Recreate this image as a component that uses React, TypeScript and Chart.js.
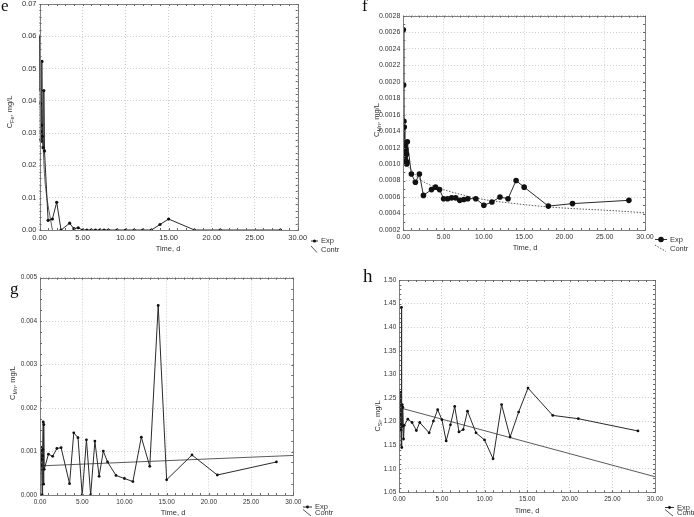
import React, { useEffect, useRef } from "react";
import { Chart, registerables } from "chart.js";
Chart.register(...registerables);

const W = 694;
const H = 517;
const SANS = '"Liberation Sans", Arial, sans-serif';
const SERIF = '"Liberation Serif", "Times New Roman", serif';

// ---------- Panel e : Fe ----------
const eTime = [0, 0.04, 0.08, 0.12, 0.17, 0.21, 0.25, 0.29, 0.33, 0.42, 0.5, 0.58, 1, 1.5, 2, 2.5, 3.5, 4, 4.5, 5, 5.5, 6, 6.5, 7, 7.5, 8, 9, 10, 11, 12, 13, 14, 15, 18, 21, 28];
const eExp = [0.06, 0.0435, 0.028, 0.0392, 0.0305, 0.0275, 0.0325, 0.0522, 0.029, 0.0255, 0.0432, 0.0245, 0.003, 0.0034, 0.0086, 0, 0.0021, 0.0004, 0.0007, 0, 0, 0, 0, 0, 0, 0, 0, 0, 0, 0, 0, 0.0017, 0.0034, 0, 0, 0];
const eContrTime = [0, 0.1, 0.2, 0.3, 0.4, 0.5, 0.6, 0.8, 1.0, 1.2, 1.4, 1.6];
const eContr = [0.06, 0.05, 0.0415, 0.034, 0.0275, 0.0215, 0.0165, 0.0112, 0.0075, 0.0045, 0.0015, -0.0015];

// ---------- Panel f : Mn ----------
const fTime = [0, 0.04, 0.08, 0.12, 0.17, 0.21, 0.25, 0.29, 0.33, 0.38, 0.42, 0.46, 0.5, 1, 1.5, 2, 2.5, 3.5, 4, 4.5, 5, 5.5, 6, 6.5, 7, 7.5, 8, 9, 10, 11, 12, 13, 14, 15, 18, 21, 28];
const fExp = [0.00263, 0.00196, 0.00152, 0.00145, 0.00116, 0.00122, 0.0011, 0.00118, 0.00104, 0.00112, 0.001, 0.00102, 0.00127, 0.00088, 0.00078, 0.00088, 0.00062, 0.00069, 0.00072, 0.00069, 0.00058, 0.00058, 0.00059, 0.00059, 0.00056, 0.00057, 0.00058, 0.00058, 0.0005, 0.00054, 0.0006, 0.00058, 0.0008, 0.00072, 0.00049, 0.00052, 0.00056];
const fContrTime = [0.3, 0.5, 1, 2, 3, 5, 8, 10, 13, 18, 21, 25, 30];
const fContr = [0.0011, 0.001, 0.00093, 0.00082, 0.00076, 0.00069, 0.00061, 0.00057, 0.00053, 0.00048, 0.00046, 0.00044, 0.00041];

// ---------- Panel g : Mn ----------
const gTime = [0, 0.04, 0.08, 0.12, 0.17, 0.21, 0.25, 0.29, 0.33, 0.38, 0.42, 0.46, 0.5, 1, 1.5, 2, 2.5, 3.5, 4, 4.5, 5, 5.5, 6, 6.5, 7, 7.5, 8, 9, 10, 11, 12, 13, 14, 15, 18, 21, 28];
const gExp = [0.00217, 0.00058, 0.0011, 0.00068, 0.00102, 0.00082, 0, 0.0009, 0.00105, 0.00168, 0.00025, 0.00162, 0.00059, 0.00094, 0.00089, 0.00107, 0.00109, 0.00026, 0.00143, 0.00132, 0, 0.00127, 0, 0.00124, 0.00043, 0.00101, 0.00076, 0.00045, 0.00038, 0.00031, 0.00133, 0.00066, 0.00436, 0.00035, 0.00092, 0.00046, 0.00076];
const gContrTime = [0, 30];
const gContr = [0.00067, 0.00091];

// ---------- Panel h : Si ----------
const hTime = [0, 0.04, 0.08, 0.12, 0.17, 0.21, 0.25, 0.29, 0.33, 0.38, 0.42, 0.5, 0.58, 1, 1.5, 2, 2.4, 3.5, 4, 4.5, 5, 5.5, 6, 6.5, 7, 7.5, 8, 9, 10, 11, 12, 13, 14, 15.1, 18, 21, 28];
const hExp = [1.15, 1.215, 1.188, 1.262, 1.195, 1.182, 1.442, 1.145, 1.236, 1.19, 1.23, 1.163, 1.192, 1.205, 1.198, 1.181, 1.198, 1.176, 1.201, 1.225, 1.204, 1.159, 1.193, 1.232, 1.178, 1.183, 1.222, 1.176, 1.161, 1.121, 1.236, 1.167, 1.22, 1.271, 1.213, 1.206, 1.18];
const hContrTime = [0.3, 30];
const hContr = [1.228, 1.083];

const xTickLabels = ["0.00", "5.00", "10.00", "15.00", "20.00", "25.00", "30.00"];
const legendLabels = ["Exp", "Contr"];

type Panel = {
  letter: string;
  letterPos: [number, number, number];
  area: [number, number, number, number];
  yMin: number; yMax: number; yStep: number; yDec: number;
  yMinor: number;
  tickFont: number;
  expT: number[]; expV: number[]; contrT: number[]; contrV: number[];
  contrDash: number[]; smooth: boolean; pointR: number;
  ySub: string; yTitlePos: [number, number]; xTitlePos: [number, number];
  legend: { lineX: number; textX: number; yExp: number; yContr: number };
};

const panels: Panel[] = [
  {
    letter: "e", letterPos: [1, -3, 17],
    area: [39.5, 2.5, 297.7, 230],
    yMin: 0, yMax: 0.07, yStep: 0.01, yDec: 2, yMinor: 5, tickFont: 7.5,
    expT: eTime, expV: eExp, contrT: eContrTime, contrV: eContr,
    contrDash: [], smooth: true, pointR: 1.6,
    ySub: "Fe", yTitlePos: [9, 112], xTitlePos: [168, 249],
    legend: { lineX: 311, textX: 321, yExp: 241, yContr: 249.5 },
  },
  {
    letter: "f", letterPos: [362, -3, 17],
    area: [403.3, 15.7, 645, 230],
    yMin: 0.0002, yMax: 0.0028, yStep: 0.0002, yDec: 4, yMinor: 2, tickFont: 7,
    expT: fTime, expV: fExp, contrT: fContrTime, contrV: fContr,
    contrDash: [1.5, 1.5], smooth: true, pointR: 2.8,
    ySub: "Mn", yTitlePos: [376, 120], xTitlePos: [525, 248],
    legend: { lineX: 655, textX: 670, yExp: 239.5, yContr: 248.5 },
  },
  {
    letter: "g", letterPos: [10, 280, 17],
    area: [40, 277.7, 293.3, 495],
    yMin: 0, yMax: 0.005, yStep: 0.001, yDec: 3, yMinor: 4, tickFont: 6.5,
    expT: gTime, expV: gExp, contrT: gContrTime, contrV: gContr,
    contrDash: [], smooth: false, pointR: 1.4,
    ySub: "Mn", yTitlePos: [12, 383], xTitlePos: [173, 512.5],
    legend: { lineX: 303, textX: 315, yExp: 507, yContr: 513 },
  },
  {
    letter: "h", letterPos: [363, 266, 19],
    area: [399.3, 280, 655, 492.3],
    yMin: 1.05, yMax: 1.5, yStep: 0.05, yDec: 2, yMinor: 5, tickFont: 6.5,
    expT: hTime, expV: hExp, contrT: hContrTime, contrV: hContr,
    contrDash: [], smooth: false, pointR: 1.4,
    ySub: "Si", yTitlePos: [377, 416], xTitlePos: [527, 510.5],
    legend: { lineX: 665, textX: 677, yExp: 507.5, yContr: 513 },
  },
];

const Y_W = 30;
const X_H = 20;

function makeConfig(p: Panel): any {
  const [l, t, r, b] = p.area;
  const expPts = p.expT.map((x, i) => ({ x, y: p.expV[i] }));
  const contrPts = p.contrT.map((x, i) => ({ x, y: p.contrV[i] }));

  const decor = {
    id: "decor",
    afterDraw(chart: any) {
      const ctx: CanvasRenderingContext2D = chart.ctx;
      const ca = chart.chartArea;
      const xs = chart.scales.x;
      const ys = chart.scales.y;
      ctx.save();
      // frame
      ctx.strokeStyle = "#808080";
      ctx.lineWidth = 1;
      ctx.setLineDash([]);
      ctx.strokeRect(Math.round(ca.left) + 0.5, Math.round(ca.top) + 0.5, Math.round(ca.right - ca.left), Math.round(ca.bottom - ca.top));
      // minor ticks
      ctx.strokeStyle = "#666";
      ctx.beginPath();
      for (let v = 0; v <= 30.0001; v += 1) {
        const px = Math.round(xs.getPixelForValue(v)) + 0.5;
        ctx.moveTo(px, ca.top); ctx.lineTo(px, ca.top + 2);
        ctx.moveTo(px, ca.bottom); ctx.lineTo(px, ca.bottom - 2);
      }
      const ms = p.yStep / p.yMinor;
      const n = Math.round((p.yMax - p.yMin) / ms);
      for (let k = 0; k <= n; k++) {
        const py = Math.round(ys.getPixelForValue(p.yMin + k * ms)) + 0.5;
        ctx.moveTo(ca.left, py); ctx.lineTo(ca.left + 2, py);
        ctx.moveTo(ca.right, py); ctx.lineTo(ca.right - 2, py);
      }
      ctx.stroke();

      // x title
      ctx.fillStyle = "#333";
      ctx.font = `7.5px ${SANS}`;
      ctx.textAlign = "center";
      ctx.textBaseline = "middle";
      ctx.fillText("Time, d", p.xTitlePos[0], p.xTitlePos[1]);

      // y title (rotated, with subscript)
      const fs = 7.5;
      const subFs = 5.5;
      ctx.translate(p.yTitlePos[0], p.yTitlePos[1]);
      ctx.rotate(-Math.PI / 2);
      ctx.font = `${fs}px ${SANS}`;
      const wC = ctx.measureText("C").width;
      const wRest = ctx.measureText(", mg/L").width;
      ctx.font = `${subFs}px ${SANS}`;
      const wSub = ctx.measureText(p.ySub).width;
      const total = wC + wSub + wRest;
      let x0 = -total / 2;
      ctx.textAlign = "left";
      ctx.textBaseline = "alphabetic";
      ctx.font = `${fs}px ${SANS}`;
      ctx.fillText("C", x0, 2.5);
      x0 += wC;
      ctx.font = `${subFs}px ${SANS}`;
      ctx.fillText(p.ySub, x0, 4.5);
      x0 += wSub;
      ctx.font = `${fs}px ${SANS}`;
      ctx.fillText(", mg/L", x0, 2.5);
      ctx.setTransform(1, 0, 0, 1, 0, 0);

      // legend
      const lg = p.legend;
      const len = lg.textX - lg.lineX - 3;
      ctx.strokeStyle = "#333";
      ctx.lineWidth = 1;
      ctx.beginPath();
      ctx.moveTo(lg.lineX, lg.yExp);
      ctx.lineTo(lg.lineX + len, lg.yExp);
      ctx.stroke();
      ctx.fillStyle = "#111";
      ctx.beginPath();
      ctx.arc(lg.lineX + len / 2, lg.yExp, p.pointR, 0, Math.PI * 2);
      ctx.fill();
      ctx.strokeStyle = "#555";
      ctx.setLineDash(p.contrDash);
      ctx.beginPath();
      ctx.moveTo(lg.lineX, lg.yContr - 3.5);
      ctx.lineTo(lg.lineX + len - 1, lg.yContr + 3);
      ctx.stroke();
      ctx.setLineDash([]);
      ctx.fillStyle = "#333";
      ctx.font = `7.5px ${SANS}`;
      ctx.textAlign = "left";
      ctx.textBaseline = "middle";
      ctx.fillText(legendLabels[0], lg.textX, lg.yExp);
      ctx.fillText(legendLabels[1], lg.textX, lg.yContr);
      ctx.restore();
    },
  };

  const tickFont = { family: SANS, size: p.tickFont };

  return {
    type: "line",
    data: {
      datasets: [
        {
          label: legendLabels[0],
          data: expPts,
          borderColor: "#2a2a2a",
          borderWidth: 1,
          pointRadius: p.pointR,
          pointBackgroundColor: "#111",
          pointBorderColor: "#111",
          pointBorderWidth: 0,
          tension: 0,
          order: 1,
        },
        {
          label: legendLabels[1],
          data: contrPts,
          borderColor: "#5a5a5a",
          borderWidth: 1,
          borderDash: p.contrDash,
          pointRadius: 0,
          cubicInterpolationMode: p.smooth ? "monotone" : "default",
          tension: 0,
          order: 2,
        },
      ],
    },
    options: {
      animation: false,
      responsive: false,
      maintainAspectRatio: false,
      events: [],
      layout: { padding: { left: l - Y_W, top: t, right: W - r, bottom: H - b - X_H } },
      plugins: { legend: { display: false }, tooltip: { enabled: false } },
      scales: {
        x: {
          type: "linear",
          min: 0,
          max: 30,
          ticks: {
            stepSize: 5,
            autoSkip: false,
            maxRotation: 0,
            padding: 3,
            color: "#333",
            font: tickFont,
            callback: (v: number) => xTickLabels[Math.round(v / 5)] ?? v.toFixed(2),
          },
          grid: { color: "#cfcfcf", drawTicks: false, lineWidth: 1 },
          border: { display: false, dash: [1, 2] },
          afterFit: (s: any) => { s.height = X_H; s.paddingLeft = 0; s.paddingRight = 0; },
        },
        y: {
          type: "linear",
          min: p.yMin,
          max: p.yMax,
          ticks: {
            stepSize: p.yStep,
            autoSkip: false,
            padding: 3,
            color: "#333",
            font: tickFont,
            callback: (v: number) => Number(v).toFixed(p.yDec),
          },
          grid: { color: "#cfcfcf", drawTicks: false, lineWidth: 1 },
          border: { display: false, dash: [1, 2] },
          afterFit: (s: any) => { s.width = Y_W; s.paddingTop = 0; s.paddingBottom = 0; },
        },
      },
    },
    plugins: [decor],
  };
}

function PanelChart({ p }: { p: Panel }) {
  const ref = useRef<HTMLCanvasElement>(null);
  useEffect(() => {
    const chart = new Chart(ref.current as HTMLCanvasElement, makeConfig(p));
    return () => chart.destroy();
  }, [p]);
  return (
    <canvas
      ref={ref}
      width={W}
      height={H}
      style={{ position: "absolute", left: 0, top: 0, width: W, height: H }}
    />
  );
}

export default function App() {
  return (
    <div style={{ position: "fixed", left: 0, top: 0, width: W, height: H, background: "#fff", overflow: "hidden" }}>
      {panels.map((p) => (
        <PanelChart key={p.letter} p={p} />
      ))}
      {panels.map((p) => (
        <span
          key={"l" + p.letter}
          style={{
            position: "absolute",
            left: p.letterPos[0],
            top: p.letterPos[1],
            fontFamily: SERIF,
            fontSize: p.letterPos[2],
            lineHeight: 1,
            color: "#111",
          }}
        >
          {p.letter}
        </span>
      ))}
    </div>
  );
}
